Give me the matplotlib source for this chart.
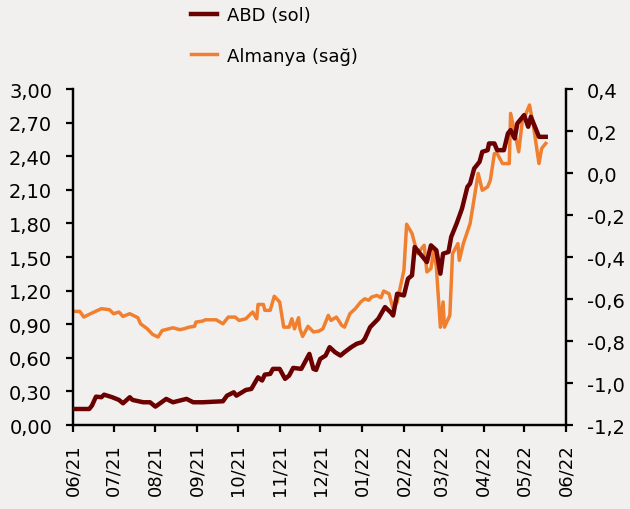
import matplotlib
matplotlib.use("Agg")
import matplotlib.pyplot as plt
import matplotlib.dates as mdates
import pandas as pd

abd_dates = ["2021-06-01","2021-06-13","2021-06-15","2021-06-18","2021-06-22","2021-06-24","2021-06-30",
             "2021-07-05","2021-07-08","2021-07-13","2021-07-15","2021-07-23","2021-07-28","2021-08-01",
             "2021-08-09","2021-08-14","2021-08-24","2021-08-29","2021-09-05","2021-09-20","2021-09-23",
             "2021-09-28","2021-09-30","2021-10-07","2021-10-11","2021-10-16","2021-10-19","2021-10-21",
             "2021-10-25","2021-10-27","2021-11-01","2021-11-05","2021-11-08","2021-11-11","2021-11-17",
             "2021-11-23","2021-11-26","2021-11-28","2021-12-01","2021-12-05","2021-12-08","2021-12-12",
             "2021-12-16","2021-12-19","2021-12-24","2021-12-28","2022-01-01","2022-01-03","2022-01-07",
             "2022-01-13","2022-01-18","2022-01-22","2022-01-24","2022-01-27","2022-02-01","2022-02-04",
             "2022-02-07","2022-02-09","2022-02-18","2022-02-21","2022-02-25","2022-02-28","2022-03-02",
             "2022-03-06","2022-03-08","2022-03-12","2022-03-16","2022-03-20","2022-03-22","2022-03-25",
             "2022-03-29","2022-03-31","2022-04-04","2022-04-05","2022-04-09","2022-04-11","2022-04-16",
             "2022-04-19","2022-04-21","2022-04-24","2022-04-26","2022-05-01","2022-05-04","2022-05-06",
             "2022-05-09","2022-05-12","2022-05-17"]
abd_values = [0.143,0.143,0.173,0.253,0.248,0.271,0.248,
              0.224,0.194,0.248,0.224,0.203,0.203,0.164,
              0.233,0.203,0.233,0.203,0.203,0.212,0.262,
              0.292,0.262,0.313,0.322,0.426,0.397,0.450,
              0.456,0.501,0.501,0.412,0.441,0.510,0.501,
              0.635,0.501,0.492,0.590,0.620,0.695,0.650,
              0.620,0.650,0.695,0.725,0.740,0.769,0.874,
              0.948,1.053,1.008,0.978,1.172,1.157,1.306,
              1.336,1.589,1.455,1.604,1.560,1.351,1.530,
              1.545,1.679,1.798,1.932,2.126,2.156,2.290,
              2.350,2.439,2.454,2.514,2.514,2.454,2.454,
              2.603,2.633,2.559,2.693,2.767,2.663,2.752,
              2.663,2.573,2.573]

de_dates = ["2021-06-01","2021-06-06","2021-06-09","2021-06-14","2021-06-22","2021-06-28","2021-07-01",
            "2021-07-05","2021-07-08","2021-07-13","2021-07-19","2021-07-21","2021-07-26","2021-07-30",
            "2021-08-03","2021-08-06","2021-08-14","2021-08-19","2021-08-22","2021-08-26","2021-08-30",
            "2021-08-31","2021-09-05","2021-09-07","2021-09-15","2021-09-20","2021-09-24","2021-09-29",
            "2021-10-02","2021-10-07","2021-10-12","2021-10-15","2021-10-16","2021-10-20","2021-10-21",
            "2021-10-25","2021-10-28","2021-11-01","2021-11-04","2021-11-08","2021-11-10","2021-11-12",
            "2021-11-15","2021-11-16","2021-11-18","2021-11-22","2021-11-26","2021-11-30","2021-12-03",
            "2021-12-07","2021-12-09","2021-12-13","2021-12-17","2021-12-19","2021-12-23","2021-12-27",
            "2021-12-31","2022-01-03","2022-01-06","2022-01-08","2022-01-12","2022-01-15","2022-01-17",
            "2022-01-21","2022-01-24","2022-01-27","2022-02-01","2022-02-03","2022-02-07","2022-02-11",
            "2022-02-16","2022-02-18","2022-02-21","2022-02-23","2022-02-25","2022-02-28","2022-03-02",
            "2022-03-03","2022-03-07","2022-03-09","2022-03-13","2022-03-14","2022-03-17","2022-03-22",
            "2022-03-25","2022-03-28","2022-03-31","2022-04-04","2022-04-06","2022-04-09","2022-04-11",
            "2022-04-15","2022-04-20","2022-04-21","2022-04-25","2022-04-27","2022-04-30","2022-05-02",
            "2022-05-05","2022-05-08","2022-05-12","2022-05-14","2022-05-17"]
de_values = [-0.659,-0.659,-0.686,-0.670,-0.646,-0.651,-0.670,
             -0.662,-0.683,-0.670,-0.689,-0.718,-0.742,-0.769,
             -0.781,-0.750,-0.737,-0.746,-0.742,-0.734,-0.730,
             -0.710,-0.705,-0.699,-0.699,-0.718,-0.686,-0.686,
             -0.702,-0.694,-0.662,-0.694,-0.626,-0.626,-0.654,
             -0.654,-0.587,-0.614,-0.734,-0.734,-0.694,-0.742,
             -0.689,-0.742,-0.778,-0.730,-0.757,-0.753,-0.742,
             -0.678,-0.702,-0.686,-0.726,-0.734,-0.670,-0.646,
             -0.614,-0.599,-0.606,-0.591,-0.583,-0.594,-0.562,
             -0.575,-0.646,-0.614,-0.463,-0.244,-0.288,-0.384,
             -0.344,-0.471,-0.455,-0.368,-0.447,-0.734,-0.614,
             -0.734,-0.678,-0.384,-0.336,-0.416,-0.336,-0.241,
             -0.122,-0.002,-0.082,-0.066,-0.034,0.093,0.093,
             0.045,0.045,0.284,0.165,0.101,0.268,0.276,
             0.324,0.220,0.045,0.117,0.141]

left_ticks = [0.0,0.3,0.6,0.9,1.2,1.5,1.8,2.1,2.4,2.7,3.0]
left_labels = ["0,00","0,30","0,60","0,90","1,20","1,50","1,80","2,10","2,40","2,70","3,00"]
right_ticks = [-1.2,-1.0,-0.8,-0.6,-0.4,-0.2,0.0,0.2,0.4]
right_labels = ["-1,2","-1,0","-0,8","-0,6","-0,4","-0,2","0,0","0,2","0,4"]

BG = "#F2F0EF"
C_ABD = "#6B0000"
C_DE = "#F0802F"

plt.rcParams['font.family'] = ['DejaVu Sans']
fig = plt.figure(figsize=(6.3, 5.1), dpi=100, facecolor=BG)
ax = fig.add_axes([0.1159, 0.1647, 0.7825, 0.6588])
ax.set_facecolor(BG)
ax2 = ax.twinx()

l1, = ax.plot(pd.to_datetime(abd_dates), abd_values, color=C_ABD, lw=3.2, label="ABD (sol)", zorder=3)
l2, = ax2.plot(pd.to_datetime(de_dates), de_values, color=C_DE, lw=2.5, label="Almanya (sağ)")
ax.set_zorder(ax2.get_zorder() + 1)
ax.patch.set_visible(False)
ax2.patch.set_visible(True)
ax2.set_facecolor(BG)

ax.set_ylim(0, 3.0)
ax2.set_ylim(-1.2, 0.4)
ax.set_xlim(pd.Timestamp("2021-06-01"), pd.Timestamp("2022-06-01"))
ax.set_yticks(left_ticks)
ax.set_yticklabels(left_labels)
ax2.set_yticks(right_ticks)
ax2.set_yticklabels(right_labels)

ax.xaxis.set_major_locator(mdates.MonthLocator())
ax.xaxis.set_major_formatter(mdates.DateFormatter("%m/%y"))
for lab in ax.get_xticklabels():
    lab.set_rotation(90)

for a in (ax, ax2):
    a.spines['top'].set_visible(False)
    for s in ('left', 'right', 'bottom'):
        a.spines[s].set_linewidth(1.6)
        a.spines[s].set_color('black')
    a.tick_params(axis='y', which='major', direction='out', length=5, width=1.6,
                  labelsize=14, colors='black', pad=10)
ax.tick_params(axis='x', which='major', direction='out', length=5, width=1.6,
               labelsize=13, colors='black', pad=8)

fig.legend(handles=[l1, l2], loc='upper left', bbox_to_anchor=(0.292, 1.0),
           borderaxespad=0, frameon=False, fontsize=13, labelspacing=1.25,
           handlelength=1.45, handletextpad=0.55)

fig.savefig("out.png", dpi=100, facecolor=BG)
